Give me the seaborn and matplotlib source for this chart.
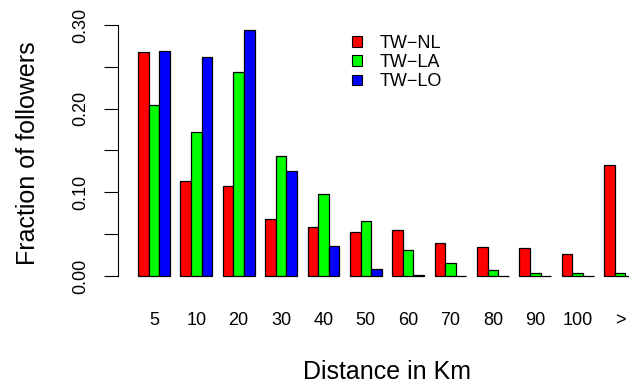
import matplotlib
matplotlib.use("Agg")
import matplotlib.pyplot as plt
import matplotlib.patches as mpatches
import numpy as np
import pandas as pd
import seaborn as sns

# Distance bins (km) and the share of followers falling in each bin
distance_bins = ["5", "10", "20", "30", "40", "50", "60", "70", "80", "90", "100", ">"]
series_names = ["TW\u2212NL", "TW\u2212LA", "TW\u2212LO"]
tw_nl = [0.268, 0.114, 0.108, 0.068, 0.058, 0.053, 0.055, 0.040, 0.035, 0.033, 0.026, 0.133]
tw_la = [0.204, 0.172, 0.244, 0.144, 0.098, 0.066, 0.031, 0.0155, 0.0076, 0.004, 0.003, 0.003]
tw_lo = [0.269, 0.262, 0.294, 0.125, 0.036, 0.008, 0.001, 0.0005, 0.0003, 0.0002, 0.0002, 0.0002]
bar_colors = ["#FF0000", "#00FF00", "#0000FF"]

y_ticks = [0.00, 0.05, 0.10, 0.15, 0.20, 0.25, 0.30]
y_tick_labels = ["0.00", "", "0.10", "", "0.20", "", "0.30"]

df = pd.DataFrame({
    "distance": distance_bins * 3,
    "series": np.repeat(series_names, len(distance_bins)),
    "fraction": tw_nl + tw_la + tw_lo,
})

sns.set_theme(style="white")
plt.rcParams["font.family"] = ["Liberation Sans", "DejaVu Sans"]
for key in ["text.color", "axes.labelcolor", "xtick.color", "ytick.color"]:
    plt.rcParams[key] = "black"

W, H = 629, 387
fig = plt.figure(figsize=(W / 100, H / 100), dpi=100)
# plot region in pixel coordinates (left, top, right, bottom)
left_px, top_px, right_px, bottom_px = 118, 20.2, 656, 285.8
ax = fig.add_axes([left_px / W, 1 - bottom_px / H,
                   (right_px - left_px) / W, (bottom_px - top_px) / H])

sns.barplot(data=df, x="distance", y="fraction", hue="series",
            order=distance_bins, hue_order=series_names,
            palette=bar_colors, width=0.75, gap=0, dodge=True,
            edgecolor="black", linewidth=0.9, saturation=1,
            errorbar=None, legend=False, ax=ax)

ax.set_xlim(-0.845, 11.845)
ax.set_ylim(-0.01176, 0.30576)

for side in ["top", "right", "bottom"]:
    ax.spines[side].set_visible(False)
ax.spines["left"].set_bounds(0, 0.30)
ax.spines["left"].set_linewidth(0.8)
ax.spines["left"].set_color("black")

ax.set_yticks(y_ticks)
ax.set_yticklabels(y_tick_labels, rotation=90, va="center", fontsize=13)
ax.tick_params(axis="y", which="major", left=True, length=10, width=0.8,
               color="black", pad=11)
ax.tick_params(axis="x", length=0, pad=19, labelsize=13)

ax.set_xlabel("Distance in Km", fontsize=18, labelpad=22)
ax.set_ylabel("Fraction of followers", fontsize=18, labelpad=23)

handles = [mpatches.Patch(facecolor=c, edgecolor="black", linewidth=0.8, label=n)
           for c, n in zip(bar_colors, series_names)]
ax.legend(handles=handles, loc="upper left", frameon=False, fontsize=13,
          bbox_to_anchor=(352 / W, 1 - 35 / H), bbox_transform=fig.transFigure,
          borderpad=0, borderaxespad=0, handlelength=0.55, handleheight=0.55,
          handletextpad=1.0, labelspacing=0.12)

fig.savefig("out.png", dpi=100)
